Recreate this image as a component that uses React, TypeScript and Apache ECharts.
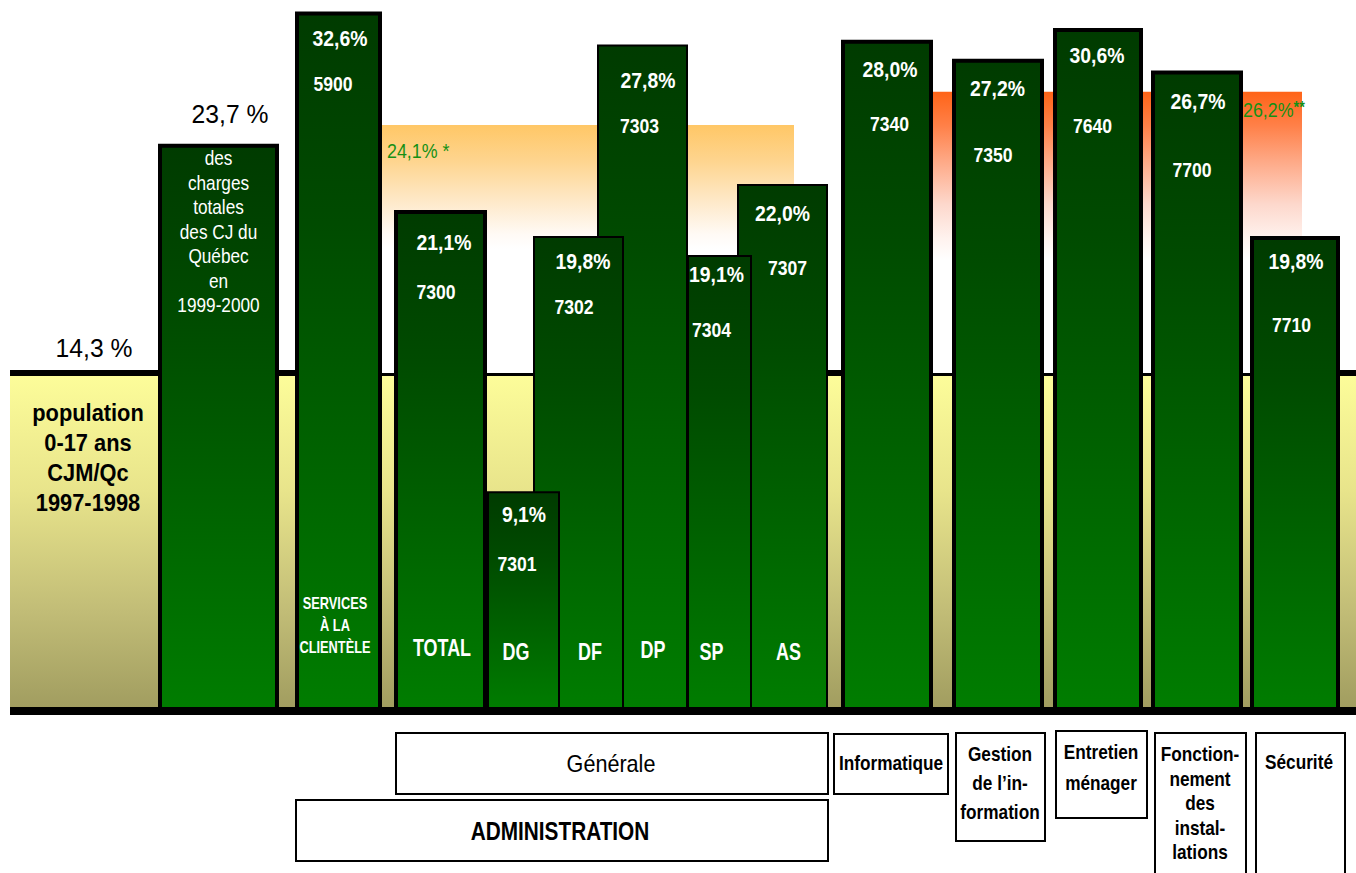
import React, { useEffect, useRef } from "react";
import * as echarts from "echarts";

// ---------- DATA ----------
const barNames = [
  "Charges totales des CJ du Québec 1999-2000",
  "Services à la clientèle",
  "Administration générale - TOTAL",
  "DP",
  "DF",
  "DG",
  "AS",
  "SP",
  "Informatique",
  "Gestion de l'information",
  "Entretien ménager",
  "Fonctionnement des installations",
  "Sécurité",
];
// labelled values (%)
const barValues = [23.7, 32.6, 21.1, 27.8, 19.8, 9.1, 22.0, 19.1, 28.0, 27.2, 30.6, 26.7, 19.8];
// heights as drawn in the picture (same % scale as the 14,3 % line)
const barDrawnHeights = [24.0, 29.6, 21.2, 28.2, 20.1, 9.3, 22.3, 19.3, 28.4, 27.6, 28.9, 27.1, 20.1];
const barCodes = [
  "des\ncharges\ntotales\ndes CJ du\nQuébec\nen\n1999-2000",
  "5900", "7300", "7303", "7302", "7301", "7307", "7304", "7340", "7350", "7640", "7700", "7710",
];
const barBottomLabels = ["", "SERVICES\nÀ LA\nCLIENTÈLE", "TOTAL", "DP", "DF", "DG", "AS", "SP", "", "", "", "", ""];

const populationShare = 14.3;
const populationLabel = "population\n0-17 ans\nCJM/Qc\n1997-1998";

const referenceValues = [24.1, 26.2];
const referenceMarks = [" *", "**"];
const referenceDrawnHeights = [24.8, 26.2];

const groupLabels = [
  "Générale",
  "ADMINISTRATION",
  "Informatique",
  "Gestion\nde l’in-\nformation",
  "Entretien\nménager",
  "Fonction-\nnement\ndes\ninstal-\nlations",
  "Sécurité",
];

// ---------- LAYOUT ----------
const X_MIN = 10;
const X_MAX = 1356;
const Y_MAX = 30;
const GRID_TOP = 2;
const GRID_BOTTOM = 162;
const barSpans = [
  [158, 279], [295, 382], [394, 487], [597, 688], [533, 624], [487, 560],
  [737, 828], [687, 752], [841, 933], [952, 1044], [1053, 1143], [1151, 1243], [1250, 1340],
];
const barBorders = [4, 4, 4, 2, 2, 2, 2, 2, 4, 4, 4, 4, 4];
const pctOffsets = [
  [11.5, -30], [1.5, 27], [3.5, 32], [5.5, 35], [4.5, 25], [0.5, 23], [0, 29],
  [-3, 19], [3, 29], [-0.5, 29], [-1, 27], [1, 31], [1, 25],
];
const codeOffsets = [
  [0, 2], [-5.5, 73], [-4.5, 82], [-3, 82], [-4.5, 71], [-6.5, 73], [5, 84],
  [-8, 75], [2.5, 84], [-5, 96], [-5.5, 98], [-5, 100], [-3.5, 89],
];
const bottomOffsets = [
  [0, 0], [-3.5, -86], [1.5, -63], [10.5, -61], [11.5, -59], [-7.5, -59], [6, -59],
  [-8, -59], [0, 0], [0, 0], [0, 0], [0, 0], [0, 0],
];
const bandSpans = [[380, 794], [933, 1302]];
const bandLabelOffsets = [[7, 26], [310, 18]];
const groupBoxes = [
  [396, 733, 432, 61],
  [296, 800, 532, 61],
  [834, 734, 114, 60],
  [956, 733, 89, 108],
  [1056, 731, 91, 87],
  [1155, 733, 91, 150],
  [1256, 733, 89, 150],
];
const groupTextPos = [
  [611, 764], [560, 831], [891, 763], [1000, 783], [1101, 767], [1200, 803], [1299, 762],
];
const groupBold = [false, true, true, true, true, true, true];
const groupSize = [24, 26, 21, 21, 21, 21, 21];
const groupScale = [0.9, 0.8, 0.82, 0.82, 0.82, 0.82, 0.82];
const groupLineHeight = [24, 26, 24, 29, 31, 24.5, 24];

const FAMILY = "'Liberation Sans', Arial, Helvetica, sans-serif";

const fmt = (v: number) => v.toFixed(1).replace(".", ",");

export default function App() {
  const ref = useRef<HTMLDivElement>(null);

  useEffect(() => {
    if (!ref.current) return;
    const chart = echarts.init(ref.current, undefined, { renderer: "svg" });

    const greenFill = () =>
      new echarts.graphic.LinearGradient(0, 0, 0, 1, [
        { offset: 0, color: "#003b00" },
        { offset: 0.3, color: "#004b00" },
        { offset: 1, color: "#007d00" },
      ]);

    const bandFills = [
      () =>
        new echarts.graphic.LinearGradient(0, 0, 0, 1, [
          { offset: 0, color: "#ffc766" },
          { offset: 0.15, color: "#fed590" },
          { offset: 0.3, color: "#fee8c6" },
          { offset: 0.44, color: "#fffaf5" },
          { offset: 0.5, color: "#ffffff" },
          { offset: 1, color: "#ffffff" },
        ]),
      () =>
        new echarts.graphic.LinearGradient(0, 0, 0, 1, [
          { offset: 0, color: "#ff6418" },
          { offset: 0.12, color: "#ff8048" },
          { offset: 0.25, color: "#feaa88" },
          { offset: 0.4, color: "#fdd8cc" },
          { offset: 0.52, color: "#fff2ee" },
          { offset: 0.6, color: "#ffffff" },
          { offset: 1, color: "#ffffff" },
        ]),
    ];

    const bandData = referenceDrawnHeights.map((h, i) => [bandSpans[i][0], bandSpans[i][1], h, i]);
    const barData = barDrawnHeights.map((h, i) => [barSpans[i][0], barSpans[i][1], h, i]);

    const txt = (
      x: number,
      y: number,
      text: string,
      size: number,
      color: string,
      bold: boolean,
      scale = 1,
      extra: any = {}
    ) => ({
      type: "text",
      x,
      y,
      scaleX: scale,
      style: {
        text,
        fill: color,
        font: `${bold ? "bold " : ""}${size}px ${FAMILY}`,
        align: "center",
        textAlign: "center",
        verticalAlign: "middle",
        textVerticalAlign: "middle",
        ...extra,
      },
    });

    const option: any = {
      animation: false,
      grid: { left: X_MIN, right: 0, top: GRID_TOP, bottom: GRID_BOTTOM },
      xAxis: { type: "value", min: X_MIN, max: X_MAX, show: false },
      yAxis: { type: "value", min: 0, max: Y_MAX, show: false },
      series: [
        {
          // background: population band + 14,3 % line
          type: "custom",
          name: "population",
          z: 1,
          data: [[X_MIN, X_MAX, populationShare]],
          renderItem: (params: any, api: any) => {
            const [x0, yTop] = api.coord([api.value(0), api.value(2)]);
            const [x1, yBase] = api.coord([api.value(1), 0]);
            return {
              type: "group",
              children: [
                {
                  type: "rect",
                  shape: { x: x0, y: yTop, width: x1 - x0, height: yBase - yTop },
                  style: {
                    fill: new echarts.graphic.LinearGradient(0, 0, 0, 1, [
                      { offset: 0, color: "#fdfd9a" },
                      { offset: 0.35, color: "#e8e48b" },
                      { offset: 0.7, color: "#c2bd77" },
                      { offset: 1, color: "#a09c5f" },
                    ]),
                  },
                },
                {
                  type: "line",
                  shape: { x1: x0, y1: yTop, x2: x1, y2: yTop },
                  style: { stroke: "#000", lineWidth: 6 },
                },
                txt(94, yTop - 25, `${fmt(api.value(2))} %`, 26, "#000", false, 0.95),
                txt(88, yTop + 85, populationLabel, 23, "#000", true, 0.95, { lineHeight: 30 }),
              ],
            };
          },
        },
        {
          type: "custom",
          name: "reference",
          z: 2,
          data: bandData,
          renderItem: (params: any, api: any) => {
            const i = params.dataIndex;
            const [x0, yTop] = api.coord([api.value(0), api.value(2)]);
            const [x1, yBase] = api.coord([api.value(1), populationShare]);
            const label = fmt(referenceValues[i]) + "%";
            const green = "#159015";
            return {
              type: "group",
              children: [
                {
                  type: "rect",
                  shape: { x: x0, y: yTop, width: x1 - x0, height: yBase - yTop },
                  style: { fill: bandFills[i]() },
                },
                {
                  type: "text",
                  x: x0 + bandLabelOffsets[i][0],
                  y: yTop + bandLabelOffsets[i][1],
                  scaleX: 0.85,
                  z2: 50,
                  style: {
                    text: `{a|${label}}{b|${referenceMarks[i]}}`,
                    fill: green,
                    align: "left",
                    textAlign: "left",
                    verticalAlign: "middle",
                    textVerticalAlign: "middle",
                    rich: {
                      a: { fontSize: 21, fontFamily: FAMILY, fill: green, color: green },
                      b: {
                        fontSize: i === 0 ? 21 : 17,
                        fontFamily: FAMILY,
                        fontWeight: i === 0 ? "normal" : "bold",
                        fill: green,
                        color: green,
                        verticalAlign: "top",
                        padding: i === 0 ? [0, 0, 0, 0] : [0, 0, 6, 0],
                      },
                    },
                  },
                },
              ],
            };
          },
        },
        {
          type: "custom",
          name: "bars",
          z: 3,
          data: barData,
          renderItem: (params: any, api: any) => {
            const i = params.dataIndex;
            const [x0, yTop] = api.coord([api.value(0), api.value(2)]);
            const [x1, yBase] = api.coord([api.value(1), 0]);
            const bw = barBorders[i];
            const cx = (x0 + x1) / 2;
            const children: any[] = [
              {
                type: "rect",
                shape: {
                  x: x0 + bw / 2,
                  y: yTop + bw / 2,
                  width: x1 - x0 - bw,
                  height: yBase - yTop - bw / 2,
                },
                style: { fill: greenFill(), stroke: "#000", lineWidth: bw },
              },
            ];
            if (i === 0) {
              children.push(
                txt(cx + pctOffsets[i][0], yTop + pctOffsets[i][1], `${fmt(barValues[i])} %`, 26, "#000", false, 0.95)
              );
              children.push(
                txt(cx + codeOffsets[i][0], yTop + codeOffsets[i][1], barCodes[i], 21, "#fff", false, 0.82, {
                  lineHeight: 24.5,
                  verticalAlign: "top",
                  textVerticalAlign: "top",
                })
              );
            } else {
              children.push(
                txt(cx + pctOffsets[i][0], yTop + pctOffsets[i][1], `${fmt(barValues[i])}%`, 22, "#fff", true, 0.88)
              );
              children.push(
                txt(cx + codeOffsets[i][0], yTop + codeOffsets[i][1], barCodes[i], 20, "#fff", true, 0.88)
              );
            }
            if (barBottomLabels[i]) {
              const small = i === 1;
              children.push(
                txt(
                  cx + bottomOffsets[i][0],
                  yBase + bottomOffsets[i][1],
                  barBottomLabels[i],
                  small ? 16 : 23,
                  "#fff",
                  true,
                  small ? 0.8 : 0.78,
                  { lineHeight: 22 }
                )
              );
            }
            return { type: "group", children };
          },
        },
      ],
      graphic: [
        {
          type: "line",
          z: 100,
          shape: { x1: X_MIN, y1: 711, x2: X_MAX, y2: 711 },
          style: { stroke: "#000", lineWidth: 8 },
        },
        ...groupLabels.flatMap((label, k) => {
          const [x, y, w, h] = groupBoxes[k];
          return [
            {
              type: "rect",
              z: 100,
              shape: { x, y, width: w, height: h },
              style: { fill: "#fff", stroke: "#000", lineWidth: 2 },
            },
            {
              ...txt(
                groupTextPos[k][0],
                groupTextPos[k][1],
                label,
                groupSize[k],
                "#000",
                groupBold[k],
                groupScale[k],
                { lineHeight: groupLineHeight[k] }
              ),
              z: 101,
            },
          ];
        }),
      ],
    };

    chart.setOption(option);
    return () => chart.dispose();
  }, []);

  return (
    <div
      ref={ref}
      style={{ position: "fixed", left: 0, top: 0, width: 1356, height: 873, background: "#fff" }}
    />
  );
}
